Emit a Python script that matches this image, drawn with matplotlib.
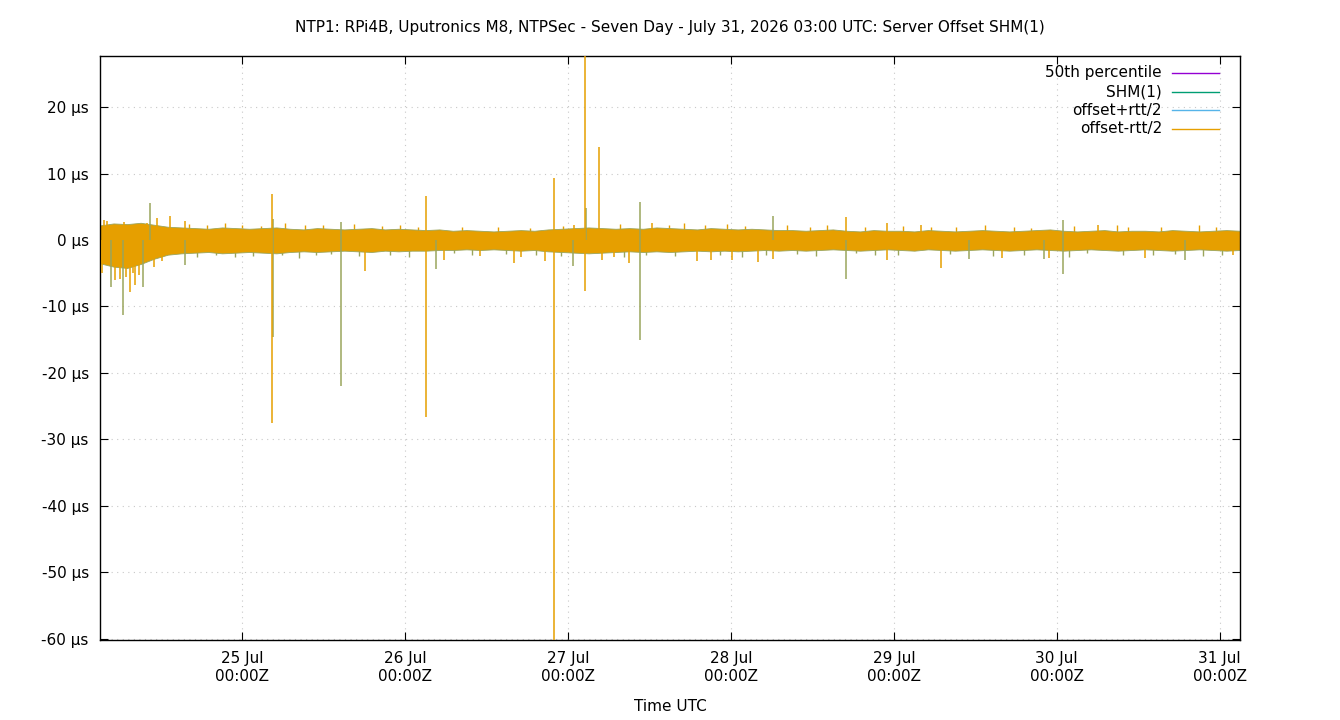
import numpy as np
import pandas as pd
import matplotlib
matplotlib.use("Agg")
import matplotlib.pyplot as plt

# Time window: seven days ending 31 Jul 2026 03:00 UTC
START = pd.Timestamp("2026-07-24 03:00")
END = pd.Timestamp("2026-07-31 03:00")

# Noise band envelope (µs), sampled every 2 hours from START
band_hours = list(range(0, 170, 2))
band_upper = [
    2.2, 2.5, 2.4, 2.6, 2.3, 2.0,
    1.9, 1.8, 1.7, 1.9, 1.8, 1.7, 1.8,
    1.9, 1.7, 1.6, 1.8, 1.7, 1.6, 1.7, 1.8, 1.6, 1.7, 1.6, 1.5, 1.6,
    1.4, 1.5, 1.4, 1.3, 1.4, 1.5, 1.4, 1.6, 1.7, 1.8,
    1.9, 1.8, 1.7, 1.8, 1.7, 1.9, 1.8, 1.7, 1.6, 1.8, 1.7, 1.6, 1.7, 1.6, 1.5,
    1.5, 1.4, 1.5, 1.6, 1.4, 1.3, 1.5, 1.4, 1.4, 1.3, 1.5, 1.4, 1.3, 1.4, 1.5,
    1.4, 1.3, 1.4, 1.5, 1.6, 1.4, 1.3, 1.4, 1.5, 1.3, 1.4, 1.4, 1.3, 1.5, 1.4,
    1.3, 1.4, 1.5, 1.4,
]
band_lower = [
    -3.5, -4.0, -4.2, -3.6, -2.8, -2.2,
    -2.0, -1.9, -1.8, -2.0, -1.9, -1.8, -1.9,
    -2.0, -1.8, -1.7, -1.8, -1.7, -1.6, -1.7, -1.8, -1.6, -1.7, -1.6, -1.6, -1.5,
    -1.5, -1.4, -1.5, -1.4, -1.5, -1.6, -1.5, -1.7, -1.8, -1.9,
    -2.0, -1.9, -1.8, -1.7, -1.8, -1.7, -1.8, -1.7, -1.6, -1.7, -1.6, -1.7, -1.6, -1.5, -1.6,
    -1.5, -1.6, -1.5, -1.4, -1.5, -1.6, -1.5, -1.4, -1.5, -1.6, -1.4, -1.5, -1.6, -1.5, -1.4,
    -1.5, -1.6, -1.5, -1.4, -1.5, -1.6, -1.5, -1.4, -1.5, -1.6, -1.5, -1.4, -1.5, -1.6, -1.5,
    -1.4, -1.5, -1.6, -1.5,
]

# small excursions just outside the band (hours from START, µs)
jitter_up_hours = [13.1, 15.8, 18.4, 21.0, 23.7, 27.3, 30.2, 32.9, 37.4, 41.6,
                   44.2, 46.9, 53.3, 58.7, 63.4, 68.2, 76.6, 83.9, 86.1, 89.2,
                   92.4, 95.1, 101.3, 104.6, 107.2, 112.8, 118.3, 122.5, 126.1, 130.4,
                   134.7, 137.2, 143.6, 149.8, 151.5, 156.3, 161.9, 164.4]
jitter_up_vals = [2.4, 2.2, 2.5, 2.3, 2.1, 2.6, 2.3, 2.2, 2.4, 2.1,
                  2.3, 2.0, 1.9, 2.0, 1.8, 2.1, 2.4, 2.3, 2.6, 2.2,
                  2.4, 2.1, 2.2, 2.0, 2.3, 1.9, 2.1, 2.0, 1.9, 2.2,
                  2.0, 1.8, 2.1, 2.3, 1.9, 2.0, 2.2, 1.9]
jitter_dn_hours = [14.3, 17.1, 19.9, 22.6, 26.8, 29.4, 31.8, 34.1, 38.2, 42.7,
                   45.5, 52.1, 54.8, 59.9, 64.3, 67.9, 77.2, 80.5, 84.7, 91.3,
                   94.6, 98.2, 102.7, 105.5, 111.4, 114.2, 117.6, 125.3, 131.6, 136.1,
                   142.8, 145.5, 150.7, 155.2, 158.4, 162.6, 165.3]
jitter_dn_vals = [-2.5, -2.3, -2.6, -2.4, -2.2, -2.7, -2.3, -2.1, -2.4, -2.2,
                  -2.5, -2.0, -2.2, -2.1, -2.3, -2.4, -2.6, -2.2, -2.4, -2.3,
                  -2.5, -2.2, -2.1, -2.4, -2.0, -2.3, -2.2, -2.1, -2.4, -2.2,
                  -2.5, -2.0, -2.3, -2.2, -2.1, -2.4, -2.2]

# offset-rtt/2 excursions (hours from START, µs)
orange_hours = [4.36, 5.09, 10.25, 12.60, 25.41, 25.41, 39.11, 48.09, 48.09, 50.75,
                56.05, 61.05, 62.09, 65.62, 66.95, 66.95, 69.89, 71.51, 71.51, 73.57,
                74.01, 75.78, 77.99, 81.37, 87.99, 90.06, 93.15, 96.98, 99.19, 109.94,
                115.97, 115.97, 120.98, 123.92, 132.90, 139.83, 147.04, 153.96, 166.92,
                2.2, 3.9, 8.4, 0.6, 0.3, 1.0, 2.9, 3.6, 4.8, 5.7, 6.9, 8.0, 9.1]
orange_vals = [-7.8, -6.8, 3.6, 2.9, 6.9, -27.5, -4.7, 6.6, -26.6, -3.0,
               -2.4, -3.4, -2.6, -3.1, 9.3, -60.5, 2.2, 28.5, -7.7, 14.0,
               -3.0, -2.5, -3.5, 2.5, -3.2, -3.0, -3.0, -3.3, -2.9, 3.4,
               2.5, -3.0, 2.2, -4.2, -2.7, -2.7, 2.2, -2.7, -2.3,
               -6.0, -5.5, 3.3, 3.0, -5.0, 2.9, -5.8, 2.7, -4.9, -5.3, 2.6, -4.0, -3.2]

# SHM(1) excursions (hours from START, µs)
shm_hours = [1.56, 3.33, 6.27, 7.30, 12.60, 25.56, 25.56, 35.58, 35.58, 49.57,
             69.74, 71.66, 79.60, 79.60, 99.19, 109.94, 128.05, 139.09, 141.89,
             141.89, 159.85]
shm_vals = [-7.0, -11.3, -7.0, 5.6, -3.8, 3.2, -14.6, 2.7, -22.0, -4.4,
            -3.9, 4.8, 5.8, -15.0, 3.6, -5.9, -2.9, -2.9, 3.0,
            -5.1, -3.0]

pct50 = 0.0

ORANGE = "#e69f00"
OLIVE = "#9aa55c"
GREEN = "#009e73"
BLUE = "#56b4e9"
PURPLE = "#9400d3"

plt.rcParams["font.family"] = ["DejaVu Sans"]

fig = plt.figure(figsize=(13.4, 7.2), dpi=100)
ax = fig.add_axes([0.0746, 0.1111, 0.8508, 0.8111])

def to_time(hours):
    return START + pd.to_timedelta(hours, unit="h")

ax.axhline(pct50, color=PURPLE, lw=1, zorder=1)
ax.vlines(to_time(jitter_up_hours), 0, jitter_up_vals, color=ORANGE, lw=1.0, zorder=1.5)
ax.vlines(to_time(jitter_dn_hours), 0, jitter_dn_vals, color=OLIVE, lw=1.0, zorder=1.5)
ax.fill_between(to_time(band_hours), band_lower, band_upper, color=ORANGE,
                edgecolor=OLIVE, lw=0.6, zorder=2)
ax.vlines(to_time(shm_hours), 0, shm_vals, color=OLIVE, lw=1.1, zorder=3)
ax.vlines(to_time(orange_hours), 0, orange_vals, color=ORANGE, lw=1.1, zorder=4)

ax.set_xlim(START, END)
ax.set_ylim(-60.2, 27.7)

ax.set_yticks(np.arange(-60, 21, 10))
ax.set_yticklabels([f"{v} µs" for v in range(-60, 21, 10)])
days = pd.date_range("2026-07-25", "2026-07-31", freq="D")
ax.set_xticks(days)
ax.set_xticklabels([d.strftime("%d %b") + "\n00:00Z" for d in days])

ax.tick_params(direction="in", length=6, width=0.8, top=True, right=True,
               labelsize=11, pad=8)
ax.grid(True, color="#c8c8c8", lw=0.8, linestyle=(0, (1, 4)))
for s in ax.spines.values():
    s.set_linewidth(1)

ax.set_xlabel("Time UTC", fontsize=11, labelpad=11)
ax.set_title("NTP1: RPi4B, Uputronics M8, NTPSec - Seven Day - July 31, 2026 03:00 UTC: "
             "Server Offset SHM(1)", fontsize=11, pad=17)

# legend drawn gnuplot style: right-aligned text, sample line on the right
legend_labels = ["50th percentile", "SHM(1)", "offset+rtt/2", "offset-rtt/2"]
legend_colors = [PURPLE, GREEN, BLUE, ORANGE]
for i, (lab, col) in enumerate(zip(legend_labels, legend_colors)):
    y = 0.971 - i * 0.0319
    ax.text(0.9316, y, lab, transform=ax.transAxes, ha="right", va="center",
            fontsize=11, zorder=6)
    ax.plot([0.9404, 0.9816], [y, y], transform=ax.transAxes, color=col,
            lw=1, zorder=6)

fig.savefig("out.png", dpi=100)
